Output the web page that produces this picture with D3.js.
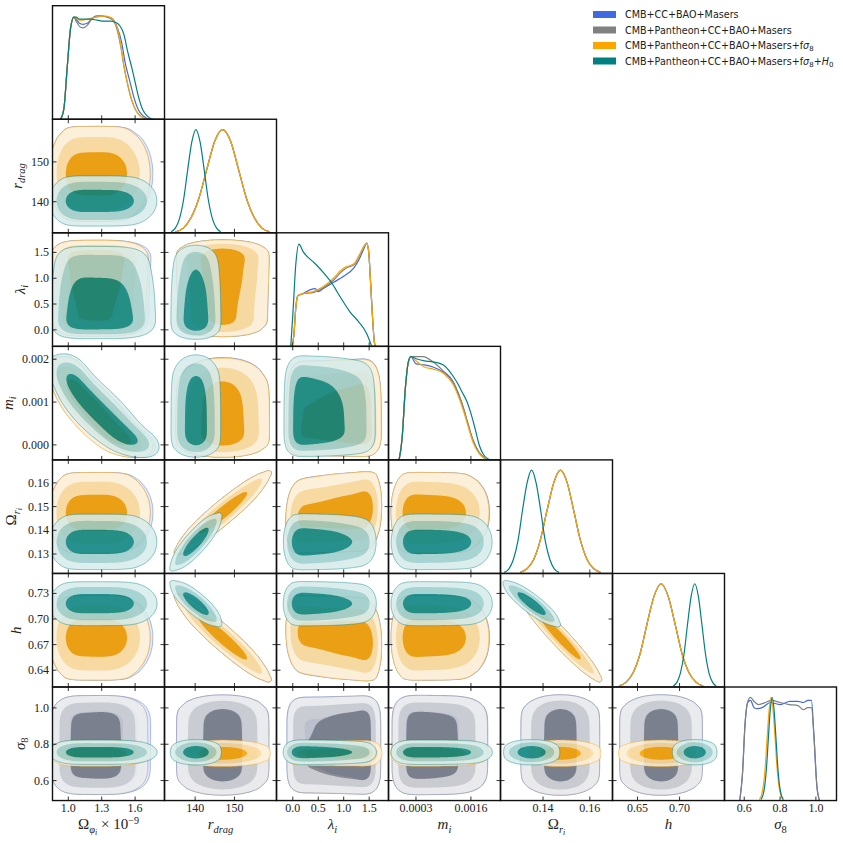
<!DOCTYPE html>
<html>
<head>
<meta charset="utf-8">
<script src="https://cdn.jsdelivr.net/npm/d3@7"></script>
<style>
  body { margin: 0; background: #fff; }
  svg { display: block; }
  .serif { font-family: "Liberation Serif", "DejaVu Serif", serif; }
</style>
</head>
<body>
<script>
// ---- data ----
const paramDomains = [[0.858, 1.864], [132.2, 160.7], [-0.32, 1.88], [-0.00035, 0.0023], [0.1218, 0.1697], [0.6203, 0.7534], [0.49, 1.115]];

const xTicks = [[1.0, 1.3, 1.6], [140, 150], [0, 0.5, 1, 1.5], [0.0003, 0.0016], [0.14, 0.16], [0.65, 0.70], [0.6, 0.8, 1.0]];
const xTickLabels = [["1.0", "1.3", "1.6"], ["140", "150"], ["0.0", "0.5", "1.0", "1.5"], ["0.0003", "0.0016"], ["0.14", "0.16"], ["0.65", "0.70"], ["0.6", "0.8", "1.0"]];
const yTicks = [[], [140, 150], [0, 0.5, 1, 1.5], [0, 0.001, 0.002], [0.13, 0.14, 0.15, 0.16], [0.64, 0.67, 0.70, 0.73], [0.6, 0.8, 1.0]];
const yTickLabels = [[], ["140", "150"], ["0.0", "0.5", "1.0", "1.5"], ["0.000", "0.001", "0.002"], ["0.13", "0.14", "0.15", "0.16"], ["0.64", "0.67", "0.70", "0.73"], ["0.6", "0.8", "1.0"]];

const datasetNames = ["CMB+CC+BAO+Masers", "CMB+Pantheon+CC+BAO+Masers", "CMB+Pantheon+CC+BAO+Masers+f", "CMB+Pantheon+CC+BAO+Masers+f"];
const datasetColors = ["#4169e1", "#808080", "#ffa500", "#008080"];

// 1D marginals, [value, relative height], one curve per dataset (blue, gray, orange, teal)
const omegaPhiCurves = [
  [[0.93,0],[0.96,0.1],[0.99,0.5],[1.02,0.88],[1.05,0.99],[1.07,0.97],[1.1,0.93],[1.13,0.92],[1.17,0.93],[1.21,0.97],[1.25,1.0],[1.3,1.0],[1.35,0.99],[1.4,0.97],[1.44,0.89],[1.48,0.74],[1.51,0.55],[1.55,0.38],[1.59,0.21],[1.63,0.09],[1.67,0.035],[1.73,0]],
  [[0.93,0],[0.96,0.1],[0.99,0.5],[1.02,0.88],[1.05,0.99],[1.07,0.95],[1.1,0.9],[1.13,0.885],[1.17,0.91],[1.21,0.97],[1.25,1.0],[1.3,1.0],[1.35,0.99],[1.4,0.96],[1.44,0.86],[1.47,0.71],[1.5,0.51],[1.53,0.35],[1.57,0.18],[1.61,0.08],[1.65,0.03],[1.71,0]],
  [[0.93,0],[0.96,0.1],[0.99,0.5],[1.02,0.88],[1.05,0.99],[1.07,0.98],[1.1,0.96],[1.13,0.96],[1.17,0.97],[1.21,0.98],[1.26,0.99],[1.33,1.0],[1.37,0.99],[1.4,0.97],[1.44,0.88],[1.47,0.73],[1.5,0.52],[1.53,0.36],[1.57,0.19],[1.61,0.08],[1.65,0.03],[1.71,0]],
  [[0.93,0],[0.96,0.1],[0.99,0.5],[1.02,0.88],[1.05,0.99],[1.07,0.99],[1.1,0.97],[1.14,0.97],[1.2,0.97],[1.26,0.96],[1.32,0.95],[1.38,0.95],[1.42,0.94],[1.46,0.91],[1.5,0.82],[1.53,0.67],[1.57,0.5],[1.6,0.36],[1.63,0.22],[1.67,0.09],[1.71,0.03],[1.76,0]]
];
const rdragCurves = [
  [[135,0.01],[137,0.045],[139,0.15],[141,0.34],[143,0.62],[145,0.89],[147,1],[149,0.89],[151,0.62],[153,0.34],[155,0.15],[157,0.045],[159,0.01]],
  [[135,0.01],[137,0.045],[139,0.15],[141,0.34],[143,0.62],[145,0.89],[147,1],[149,0.89],[151,0.62],[153,0.34],[155,0.15],[157,0.045],[159,0.01]],
  [[135,0.01],[137,0.045],[139,0.15],[141,0.34],[143,0.62],[145,0.89],[147,1],[149,0.89],[151,0.62],[153,0.34],[155,0.15],[157,0.045],[159,0.01]],
  [[133.9,0.01],[134.95,0.045],[136,0.135],[137.05,0.32],[138.1,0.61],[139.15,0.88],[140.2,1],[141.25,0.88],[142.3,0.61],[143.35,0.32],[144.4,0.135],[145.45,0.045],[146.5,0.01]]
];
const lambdaCurves = [
  [[-0.02,0],[0.02,0.1],[0.06,0.38],[0.1,0.49],[0.2,0.51],[0.35,0.55],[0.44,0.56],[0.5,0.53],[0.6,0.56],[0.8,0.62],[1.0,0.68],[1.2,0.76],[1.3,0.84],[1.4,0.95],[1.45,1.0],[1.49,0.92],[1.53,0.6],[1.57,0.25],[1.6,0.05],[1.62,0]],
  [[-0.02,0],[0.02,0.1],[0.06,0.38],[0.1,0.49],[0.2,0.51],[0.4,0.52],[0.6,0.57],[0.8,0.64],[0.95,0.72],[1.05,0.76],[1.2,0.79],[1.3,0.87],[1.4,0.97],[1.45,1.0],[1.49,0.92],[1.53,0.6],[1.57,0.25],[1.6,0.05],[1.62,0]],
  [[-0.02,0],[0.02,0.1],[0.06,0.38],[0.1,0.49],[0.2,0.51],[0.4,0.53],[0.6,0.58],[0.8,0.66],[0.95,0.74],[1.05,0.77],[1.2,0.8],[1.3,0.88],[1.4,0.97],[1.45,1.0],[1.49,0.92],[1.53,0.6],[1.57,0.25],[1.6,0.05],[1.62,0]],
  [[-0.04,0],[0.0,0.3],[0.06,0.8],[0.12,0.99],[0.2,0.92],[0.44,0.8],[0.61,0.71],[0.77,0.61],[0.93,0.48],[1.13,0.33],[1.29,0.24],[1.45,0.125],[1.52,0.04],[1.55,0]]
];
const mCurves = [
  [[-0.0001,0],[-0.00003,0.2],[0.00005,0.7],[0.00012,0.95],[0.00018,1.0],[0.0003,0.93],[0.0005,0.92],[0.0007,0.9],[0.00095,0.85],[0.00118,0.75],[0.0013,0.64],[0.00142,0.5],[0.00153,0.35],[0.00165,0.19],[0.00178,0.08],[0.0019,0.025],[0.00198,0]],
  [[-0.0001,0],[-0.00003,0.2],[0.00005,0.7],[0.00012,0.95],[0.00018,1.0],[0.0003,1.0],[0.00047,1.0],[0.0007,0.95],[0.00095,0.86],[0.00118,0.76],[0.0013,0.65],[0.00142,0.51],[0.00153,0.35],[0.00165,0.19],[0.00178,0.08],[0.0019,0.025],[0.00198,0]],
  [[-0.0001,0],[-0.00003,0.2],[0.00005,0.7],[0.00012,0.95],[0.00018,1.0],[0.0003,0.96],[0.0005,0.9],[0.0007,0.88],[0.00095,0.84],[0.00118,0.73],[0.0013,0.62],[0.00142,0.48],[0.00153,0.33],[0.00165,0.17],[0.00178,0.07],[0.0019,0.02],[0.00197,0]],
  [[-0.0001,0],[-0.00003,0.2],[0.00005,0.7],[0.00012,0.95],[0.00018,1.0],[0.0003,0.98],[0.0005,0.96],[0.0007,0.95],[0.00095,0.92],[0.00118,0.81],[0.0013,0.73],[0.0014,0.65],[0.0015,0.57],[0.0016,0.45],[0.0017,0.3],[0.0018,0.14],[0.0019,0.05],[0.002,0.01],[0.00205,0]]
];
const omegaRCurves = [
  [[0.1303,0.01],[0.1331,0.045],[0.136,0.135],[0.1388,0.32],[0.1417,0.61],[0.1446,0.88],[0.1474,1],[0.1503,0.88],[0.1531,0.61],[0.156,0.32],[0.1588,0.135],[0.1617,0.045],[0.1645,0.01]],
  [[0.1303,0.01],[0.1331,0.045],[0.136,0.135],[0.1388,0.32],[0.1417,0.61],[0.1446,0.88],[0.1474,1],[0.1503,0.88],[0.1531,0.61],[0.156,0.32],[0.1588,0.135],[0.1617,0.045],[0.1645,0.01]],
  [[0.1303,0.01],[0.1331,0.045],[0.136,0.135],[0.1388,0.32],[0.1417,0.61],[0.1446,0.88],[0.1474,1],[0.1503,0.88],[0.1531,0.61],[0.156,0.32],[0.1588,0.135],[0.1617,0.045],[0.1645,0.01]],
  [[0.1234,0.01],[0.1254,0.045],[0.1273,0.135],[0.1293,0.32],[0.1312,0.61],[0.1332,0.88],[0.1351,1],[0.137,0.88],[0.139,0.61],[0.1409,0.32],[0.1429,0.135],[0.1448,0.045],[0.1468,0.01]]
];
const hCurves = [
  [[0.6279,0.01],[0.6362,0.045],[0.6446,0.135],[0.653,0.32],[0.6613,0.61],[0.6697,0.88],[0.678,1],[0.6864,0.88],[0.6947,0.61],[0.703,0.32],[0.7114,0.135],[0.7198,0.045],[0.7281,0.01]],
  [[0.6279,0.01],[0.6362,0.045],[0.6446,0.135],[0.653,0.32],[0.6613,0.61],[0.6697,0.88],[0.678,1],[0.6864,0.88],[0.6947,0.61],[0.703,0.32],[0.7114,0.135],[0.7198,0.045],[0.7281,0.01]],
  [[0.6279,0.01],[0.6362,0.045],[0.6446,0.135],[0.653,0.32],[0.6613,0.61],[0.6697,0.88],[0.678,1],[0.6864,0.88],[0.6947,0.61],[0.703,0.32],[0.7114,0.135],[0.7198,0.045],[0.7281,0.01]],
  [[0.6925,0.01],[0.6968,0.045],[0.701,0.135],[0.7053,0.32],[0.7095,0.61],[0.7138,0.88],[0.718,1],[0.7223,0.88],[0.7265,0.61],[0.7308,0.32],[0.735,0.135],[0.7393,0.045],[0.7435,0.01]]
];
const sigma8Curves = [
  [[0.575,0],[0.59,0.25],[0.605,0.75],[0.62,0.95],[0.635,0.97],[0.655,0.9],[0.675,0.89],[0.7,0.9],[0.745,0.95],[0.8,0.93],[0.855,0.96],[0.9,0.96],[0.93,0.95],[0.955,0.97],[0.975,0.97],[0.99,0.6],[1.005,0.15],[1.02,0]],
  [[0.575,0],[0.59,0.25],[0.605,0.75],[0.62,0.96],[0.635,1.0],[0.655,0.96],[0.68,0.93],[0.72,0.95],[0.75,0.97],[0.8,0.95],[0.85,0.93],[0.9,0.92],[0.93,0.88],[0.955,0.9],[0.975,0.9],[0.99,0.6],[1.005,0.15],[1.02,0]],
  [[0.684,0.01],[0.695,0.045],[0.706,0.135],[0.717,0.32],[0.728,0.61],[0.739,0.88],[0.75,1],[0.761,0.88],[0.772,0.61],[0.783,0.32],[0.794,0.135],[0.805,0.045],[0.816,0.01]],
  [[0.693,0.01],[0.7035,0.045],[0.714,0.135],[0.7245,0.32],[0.735,0.61],[0.7455,0.88],[0.756,1],[0.7665,0.88],[0.777,0.61],[0.7875,0.32],[0.798,0.135],[0.8085,0.045],[0.819,0.01]]
];
const curvesByParam = [omegaPhiCurves, rdragCurves, lambdaCurves, mCurves, omegaRCurves, hCurves, sigma8Curves];

// correlated pairs [x param, y param] and their correlation per dataset
const corrPairs = [[0, 3], [1, 4], [1, 5], [4, 5], [2, 4], [2, 5]];
const corrBlue = [-0.97, 0.95, -0.95, -0.97, 0.2, -0.2];
const corrGray = [-0.97, 0.95, -0.95, -0.97, 0.2, -0.2];
const corrOrange = [-0.97, 0.95, -0.95, -0.97, 0.2, -0.2];
const corrTeal = [-0.97, 0.88, -0.85, -0.9, 0, 0];
const corrByDataset = [corrBlue, corrGray, corrOrange, corrTeal];

// 2D smoothing (grid cells) per parameter, per dataset
const smoothCells = [[7, 7, 7, 7], [1, 1, 1, 1], [4, 4, 4, 4], [5, 5, 5, 5], [1, 1, 1, 1], [1, 1, 1, 1], [6, 6, 1, 1]];

// ---- layout ----
const W = 843, H = 843;
const left = 52.5, top0 = 5.7, pw = 112, ph = 113.55, np = 7;

const svg = d3.select("body").append("svg").attr("width", W).attr("height", H);
const defs = svg.append("defs");

const xScales = paramDomains.map((dom, i) => d3.scaleLinear().domain(dom).range([left + i * pw, left + (i + 1) * pw]));
const yScales = paramDomains.map((dom, j) => d3.scaleLinear().domain(dom).range([top0 + (j + 1) * ph, top0 + j * ph]));

function pale(hex, f) {
  const c = d3.rgb(hex);
  return d3.rgb(c.r * (1 - f) + 255 * f, c.g * (1 - f) + 255 * f, c.b * (1 - f) + 255 * f).formatHex();
}

// inverse normal cdf (Acklam)
function probit(p) {
  const a = [-3.969683028665376e+01, 2.209460984245205e+02, -2.759285104469687e+02, 1.383577518672690e+02, -3.066479806614716e+01, 2.506628277459239e+00];
  const b = [-5.447609879822406e+01, 1.615858368580409e+02, -1.556989798598866e+02, 6.680131188771972e+01, -1.328068155288572e+01];
  const c = [-7.784894002430293e-03, -3.223964580411365e-01, -2.400758277161838e+00, -2.549732539343734e+00, 4.374664141464968e+00, 2.938163982698783e+00];
  const d = [7.784695709041462e-03, 3.224671290700398e-01, 2.445134137142996e+00, 3.754408661907416e+00];
  const pl = 0.02425;
  if (p < pl) {
    const q = Math.sqrt(-2 * Math.log(p));
    return (((((c[0] * q + c[1]) * q + c[2]) * q + c[3]) * q + c[4]) * q + c[5]) / ((((d[0] * q + d[1]) * q + d[2]) * q + d[3]) * q + 1);
  }
  if (p <= 1 - pl) {
    const q = p - 0.5, r = q * q;
    return (((((a[0] * r + a[1]) * r + a[2]) * r + a[3]) * r + a[4]) * r + a[5]) * q / (((((b[0] * r + b[1]) * r + b[2]) * r + b[3]) * r + b[4]) * r + 1);
  }
  const q = Math.sqrt(-2 * Math.log(1 - p));
  return -(((((c[0] * q + c[1]) * q + c[2]) * q + c[3]) * q + c[4]) * q + c[5]) / ((((d[0] * q + d[1]) * q + d[2]) * q + d[3]) * q + 1);
}

// marginal density (linear between read points) and its cdf
function makeMarg(pts) {
  const xs = pts.map(p => p[0]), ys = pts.map(p => p[1]);
  const a = xs[0], b = xs[xs.length - 1];
  const pdf = x => {
    if (x <= a || x >= b) return 0;
    const k = d3.bisectRight(xs, x) - 1;
    const t = (x - xs[k]) / (xs[k + 1] - xs[k]);
    return ys[k] + t * (ys[k + 1] - ys[k]);
  };
  const N = 800, dx = (b - a) / N;
  const cum = [0];
  let s = 0;
  for (let i = 1; i <= N; i++) { s += 0.5 * (pdf(a + (i - 1) * dx) + pdf(a + i * dx)) * dx; cum.push(s); }
  const cdf = x => {
    if (x <= a) return 0;
    if (x >= b) return 1;
    const f = (x - a) / dx, i = Math.floor(f);
    return (cum[i] + (f - i) * (cum[Math.min(i + 1, N)] - cum[i])) / s;
  };
  return { pdf, cdf };
}

const n = 120;
const margs = paramDomains.map((dom, p) => datasetColors.map((col, d) => {
  const m = makeMarg(curvesByParam[p][d]);
  const pdf = [], z = [];
  for (let k = 0; k < n; k++) {
    const x = dom[0] + (k + 0.5) * (dom[1] - dom[0]) / n;
    pdf.push(m.pdf(x));
    z.push(probit(Math.min(1 - 1e-7, Math.max(1e-7, m.cdf(x)))));
  }
  return { pdf, z };
}));

function getRho(d, i, j) {
  const k = corrPairs.findIndex(p => p[0] === i && p[1] === j);
  return k < 0 ? 0 : corrByDataset[d][k];
}

function levelsFor(vals) {
  const s = Array.from(vals).sort((a, b) => b - a);
  const tot = d3.sum(s);
  const targets = [0.68, 0.95, 0.997];
  const out = [];
  let cum = 0, t = 0;
  for (let q = 0; q < s.length && t < targets.length; q++) {
    cum += s[q];
    while (t < targets.length && cum >= targets[t] * tot) { out.push(s[q]); t++; }
  }
  while (out.length < 3) out.push(s[s.length - 1] || 1e-12);
  return [out[2], out[1], out[0]];
}

// clip paths
for (let j = 0; j < np; j++) for (let i = 0; i <= j; i++) {
  defs.append("clipPath").attr("id", `clip-${i}-${j}`)
    .append("rect").attr("x", left + i * pw).attr("y", top0 + j * ph).attr("width", pw).attr("height", ph);
}

// ---- 2D panels ----
for (let j = 1; j < np; j++) for (let i = 0; i < j; i++) {
  const g = svg.append("g").attr("clip-path", `url(#clip-${i}-${j})`);
  const dx = paramDomains[i], dy = paramDomains[j];
  const tr = d3.geoTransform({
    point: function (gx, gy) {
      this.stream.point(xScales[i](dx[0] + gx * (dx[1] - dx[0]) / n), yScales[j](dy[1] - gy * (dy[1] - dy[0]) / n));
    }
  });
  const path = d3.geoPath(tr);
  datasetColors.forEach((col, d) => {
    const rho = getRho(d, i, j);
    const A = margs[i][d], B = margs[j][d];
    const vals = new Float64Array(n * n);
    const k1 = 1 / Math.sqrt(1 - rho * rho), k2 = 1 / (2 * (1 - rho * rho));
    for (let l = 0; l < n; l++) {
      const kk = n - 1 - l, py = B.pdf[kk], zy = B.z[kk];
      for (let k = 0; k < n; k++) {
        const px = A.pdf[k];
        if (px === 0 || py === 0) { vals[l * n + k] = 0; continue; }
        const zx = A.z[k];
        vals[l * n + k] = px * py * (rho === 0 ? 1 : k1 * Math.exp(-(rho * rho * (zx * zx + zy * zy) - 2 * rho * zx * zy) * k2));
      }
    }
    if (d3.blur2) d3.blur2({ data: vals, width: n, height: n }, smoothCells[i][d], smoothCells[j][d]);
    const th = levelsFor(vals);
    const cs = d3.contours().size([n, n]).thresholds(th)(vals);
    const fills = [pale(col, 0.84), pale(col, 0.6), col];
    const gf = g.append("g").attr("opacity", 0.85);
    cs.forEach((c, q) => gf.append("path").attr("d", path(c)).attr("fill", fills[q]));
    g.append("path").attr("d", path(cs[0])).attr("fill", "none")
      .attr("stroke", col).attr("stroke-opacity", 0.55).attr("stroke-width", 0.8);
  });
}

// ---- 1D panels ----
for (let i = 0; i < np; i++) {
  const g = svg.append("g").attr("clip-path", `url(#clip-${i}-${i})`);
  const yv = d3.scaleLinear().domain([0, 1.1]).range([top0 + (i + 1) * ph, top0 + i * ph]);
  const line = d3.line().x(p => xScales[i](p[0])).y(p => yv(p[1])).curve(d3.curveMonotoneX);
  curvesByParam[i].forEach((pts, d) => {
    g.append("path").attr("d", line(pts)).attr("fill", "none")
      .attr("stroke", datasetColors[d]).attr("stroke-width", 1.2);
  });
}

// ---- frames and ticks ----
const tl = 4;
for (let j = 0; j < np; j++) for (let i = 0; i <= j; i++) {
  const x0 = left + i * pw, y0 = top0 + j * ph;
  const gt = svg.append("g").attr("stroke", "#000").attr("stroke-width", 0.8);
  xTicks[i].forEach(t => {
    const x = xScales[i](t);
    gt.append("line").attr("x1", x).attr("x2", x).attr("y1", y0 + ph).attr("y2", y0 + ph - tl);
    if (i !== j) gt.append("line").attr("x1", x).attr("x2", x).attr("y1", y0).attr("y2", y0 + tl);
  });
  if (i !== j) {
    yTicks[j].forEach(t => {
      const y = yScales[j](t);
      gt.append("line").attr("x1", x0).attr("x2", x0 + tl).attr("y1", y).attr("y2", y);
      gt.append("line").attr("x1", x0 + pw).attr("x2", x0 + pw - tl).attr("y1", y).attr("y2", y);
    });
  }
  svg.append("rect").attr("x", x0).attr("y", y0).attr("width", pw).attr("height", ph)
    .attr("fill", "none").attr("stroke", "#111").attr("stroke-width", 1.4);
}

// tick labels
xTicks.forEach((ts, i) => {
  ts.forEach((t, k) => {
    svg.append("text").attr("class", "serif").attr("x", xScales[i](t)).attr("y", 812).attr("text-anchor", "middle")
      .attr("font-size", 12).attr("fill", "#222").text(xTickLabels[i][k]);
  });
});
const rowLabelLeft = yTicks.map(() => left);
yTicks.forEach((ts, j) => {
  ts.forEach((t, k) => {
    const tx = svg.append("text").attr("class", "serif").attr("x", left - 3.5).attr("y", yScales[j](t) + 4).attr("text-anchor", "end")
      .attr("font-size", 12).attr("fill", "#222").text(yTickLabels[j][k]);
    rowLabelLeft[j] = Math.min(rowLabelLeft[j], tx.node().getBBox().x);
  });
});

// axis labels: [text, italic, level] level 0 base, 1 sub, 2 subsub, -1 sup
const axisLabels = [
  [["Ω", 0, 0], ["φ", 1, 1], ["i", 1, 2], [" × 10", 0, 0], ["−9", 0, -1]],
  [["r", 1, 0], ["drag", 1, 1]],
  [["λ", 1, 0], ["i", 1, 1]],
  [["m", 1, 0], ["i", 1, 1]],
  [["Ω", 0, 0], ["r", 1, 1], ["i", 1, 2]],
  [["h", 1, 0]],
  [["σ", 1, 0], ["8", 0, 1]]
];
const lvlSize = { "0": 15, "1": 10.5, "2": 8, "-1": 10 };
const lvlOff = { "0": 0, "1": 3.5, "2": 6, "-1": -5.5 };
function mathText(sel, parts) {
  let prev = 0;
  parts.forEach(p => {
    sel.append("tspan").attr("font-style", p[1] ? "italic" : "normal")
      .attr("font-size", lvlSize[p[2]]).attr("dy", lvlOff[p[2]] - lvlOff[prev]).text(p[0]);
    prev = p[2];
  });
}
axisLabels.forEach((parts, i) => {
  const t = svg.append("text").attr("class", "serif").attr("x", left + (i + 0.5) * pw).attr("y", 829).attr("text-anchor", "middle")
    .attr("fill", "#222");
  mathText(t, parts);
  if (i > 0) {
    const ty = svg.append("text").attr("class", "serif").attr("text-anchor", "middle").attr("fill", "#222");
    mathText(ty, parts);
    const bb = ty.node().getBBox();
    const bx = rowLabelLeft[i] - 4 - (bb.y + bb.height);
    ty.attr("transform", `translate(${bx},${top0 + (i + 0.5) * ph}) rotate(-90)`);
  }
});

// legend
const legendY = [14.5, 30, 45.5, 61];
datasetNames.forEach((name, d) => {
  svg.append("rect").attr("x", 593).attr("y", legendY[d] - 3.5).attr("width", 23).attr("height", 7).attr("fill", datasetColors[d]);
  const t = svg.append("text").attr("x", 625).attr("y", legendY[d] + 3.5)
    .attr("font-family", "'DejaVu Sans', sans-serif").attr("font-size", 9.6).attr("fill", "#222").text(name);
  if (d >= 2) {
    t.append("tspan").attr("font-style", "italic").text("σ");
    t.append("tspan").attr("font-size", 7).attr("dy", 2).text("8");
  }
  if (d === 3) {
    t.append("tspan").attr("dy", -2).text("+");
    t.append("tspan").attr("font-style", "italic").text("H");
    t.append("tspan").attr("font-size", 7).attr("dy", 2).text("0");
  }
});
</script>
</body>
</html>
